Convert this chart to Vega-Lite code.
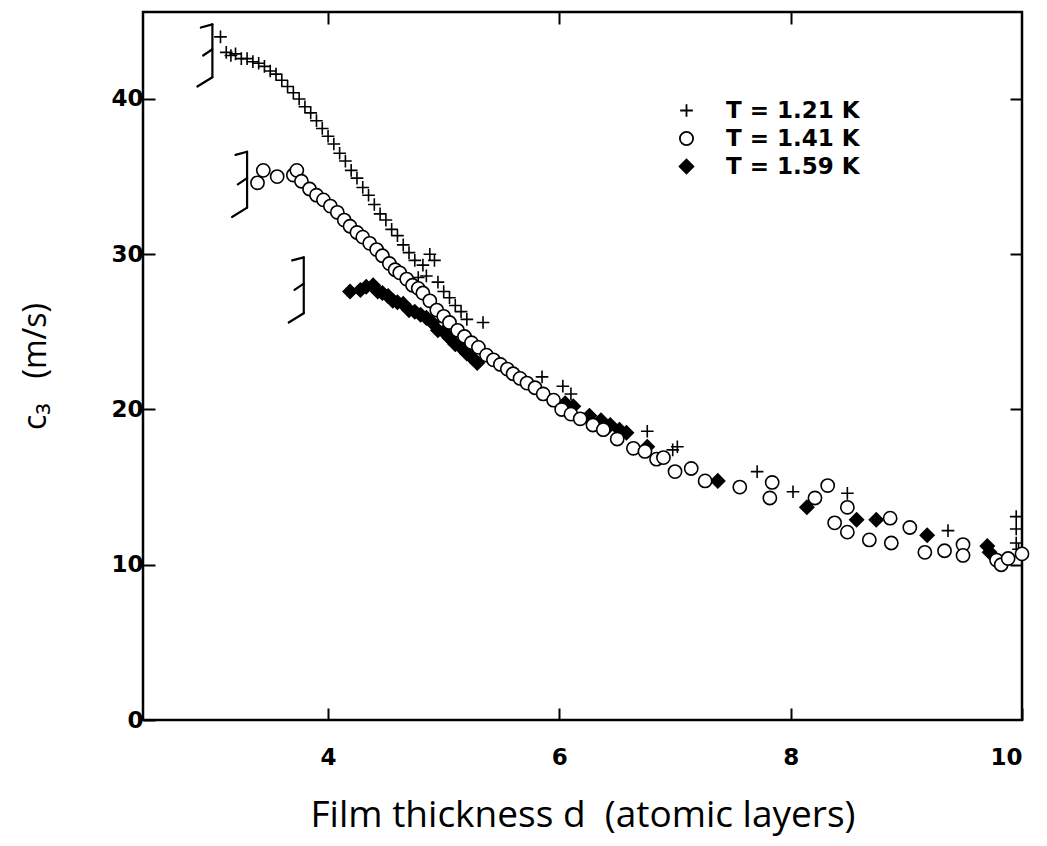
{
  "$schema": "https://vega.github.io/schema/vega-lite/v6.json",
  "width": 879,
  "height": 708,
  "autosize": "none",
  "padding": {"left": 143, "top": 12, "right": 25, "bottom": 126},
  "background": "white",
  "config": {
    "view": {"stroke": "black", "strokeWidth": 2.5},
    "axis": {"domain": false, "grid": false, "tickColor": "black", "tickWidth": 2, "tickSize": -12},
    "legend": {"padding": 0}
  },
  "datasets": {
    "pts": [
      {"d": 3.07, "c": 44.0, "T": "T = 1.21 K"},
      {"d": 3.12, "c": 43.0, "T": "T = 1.21 K"},
      {"d": 3.16, "c": 42.8, "T": "T = 1.21 K"},
      {"d": 3.20, "c": 42.9, "T": "T = 1.21 K"},
      {"d": 3.25, "c": 42.6, "T": "T = 1.21 K"},
      {"d": 3.30, "c": 42.6, "T": "T = 1.21 K"},
      {"d": 3.35, "c": 42.4, "T": "T = 1.21 K"},
      {"d": 3.40, "c": 42.3, "T": "T = 1.21 K"},
      {"d": 3.45, "c": 42.1, "T": "T = 1.21 K"},
      {"d": 3.50, "c": 41.8, "T": "T = 1.21 K"},
      {"d": 3.55, "c": 41.6, "T": "T = 1.21 K"},
      {"d": 3.60, "c": 41.2, "T": "T = 1.21 K"},
      {"d": 3.65, "c": 40.8, "T": "T = 1.21 K"},
      {"d": 3.70, "c": 40.4, "T": "T = 1.21 K"},
      {"d": 3.75, "c": 40.0, "T": "T = 1.21 K"},
      {"d": 3.80, "c": 39.5, "T": "T = 1.21 K"},
      {"d": 3.85, "c": 39.1, "T": "T = 1.21 K"},
      {"d": 3.90, "c": 38.6, "T": "T = 1.21 K"},
      {"d": 3.95, "c": 38.1, "T": "T = 1.21 K"},
      {"d": 4.00, "c": 37.6, "T": "T = 1.21 K"},
      {"d": 4.05, "c": 37.1, "T": "T = 1.21 K"},
      {"d": 4.10, "c": 36.5, "T": "T = 1.21 K"},
      {"d": 4.15, "c": 36.0, "T": "T = 1.21 K"},
      {"d": 4.20, "c": 35.4, "T": "T = 1.21 K"},
      {"d": 4.25, "c": 34.9, "T": "T = 1.21 K"},
      {"d": 4.30, "c": 34.3, "T": "T = 1.21 K"},
      {"d": 4.35, "c": 33.8, "T": "T = 1.21 K"},
      {"d": 4.40, "c": 33.2, "T": "T = 1.21 K"},
      {"d": 4.45, "c": 32.6, "T": "T = 1.21 K"},
      {"d": 4.50, "c": 32.2, "T": "T = 1.21 K"},
      {"d": 4.55, "c": 31.6, "T": "T = 1.21 K"},
      {"d": 4.60, "c": 31.2, "T": "T = 1.21 K"},
      {"d": 4.65, "c": 30.6, "T": "T = 1.21 K"},
      {"d": 4.70, "c": 30.1, "T": "T = 1.21 K"},
      {"d": 4.75, "c": 29.6, "T": "T = 1.21 K"},
      {"d": 4.78, "c": 28.5, "T": "T = 1.21 K"},
      {"d": 4.82, "c": 29.3, "T": "T = 1.21 K"},
      {"d": 4.85, "c": 28.6, "T": "T = 1.21 K"},
      {"d": 4.88, "c": 30.0, "T": "T = 1.21 K"},
      {"d": 4.92, "c": 29.6, "T": "T = 1.21 K"},
      {"d": 4.95, "c": 28.2, "T": "T = 1.21 K"},
      {"d": 5.00, "c": 27.6, "T": "T = 1.21 K"},
      {"d": 5.05, "c": 27.2, "T": "T = 1.21 K"},
      {"d": 5.10, "c": 26.7, "T": "T = 1.21 K"},
      {"d": 5.15, "c": 26.3, "T": "T = 1.21 K"},
      {"d": 5.20, "c": 25.8, "T": "T = 1.21 K"},
      {"d": 5.34, "c": 25.6, "T": "T = 1.21 K"},
      {"d": 5.85, "c": 22.1, "T": "T = 1.21 K"},
      {"d": 6.03, "c": 21.5, "T": "T = 1.21 K"},
      {"d": 6.10, "c": 21.0, "T": "T = 1.21 K"},
      {"d": 6.76, "c": 18.6, "T": "T = 1.21 K"},
      {"d": 6.98, "c": 17.4, "T": "T = 1.21 K"},
      {"d": 7.02, "c": 17.6, "T": "T = 1.21 K"},
      {"d": 7.71, "c": 16.0, "T": "T = 1.21 K"},
      {"d": 8.02, "c": 14.7, "T": "T = 1.21 K"},
      {"d": 8.49, "c": 14.6, "T": "T = 1.21 K"},
      {"d": 9.36, "c": 12.2, "T": "T = 1.21 K"},
      {"d": 9.95, "c": 13.1, "T": "T = 1.21 K"},
      {"d": 9.95, "c": 12.3, "T": "T = 1.21 K"},
      {"d": 9.95, "c": 11.4, "T": "T = 1.21 K"},
      {"d": 9.97, "c": 11.0, "T": "T = 1.21 K"},

      {"d": 4.19, "c": 27.6, "T": "T = 1.59 K"},
      {"d": 4.28, "c": 27.7, "T": "T = 1.59 K"},
      {"d": 4.33, "c": 27.9, "T": "T = 1.59 K"},
      {"d": 4.39, "c": 28.0, "T": "T = 1.59 K"},
      {"d": 4.43, "c": 27.6, "T": "T = 1.59 K"},
      {"d": 4.47, "c": 27.5, "T": "T = 1.59 K"},
      {"d": 4.52, "c": 27.3, "T": "T = 1.59 K"},
      {"d": 4.56, "c": 27.0, "T": "T = 1.59 K"},
      {"d": 4.60, "c": 26.9, "T": "T = 1.59 K"},
      {"d": 4.65, "c": 26.8, "T": "T = 1.59 K"},
      {"d": 4.70, "c": 26.4, "T": "T = 1.59 K"},
      {"d": 4.75, "c": 26.3, "T": "T = 1.59 K"},
      {"d": 4.80, "c": 26.1, "T": "T = 1.59 K"},
      {"d": 4.85, "c": 25.9, "T": "T = 1.59 K"},
      {"d": 4.90, "c": 25.6, "T": "T = 1.59 K"},
      {"d": 4.95, "c": 25.1, "T": "T = 1.59 K"},
      {"d": 5.00, "c": 25.0, "T": "T = 1.59 K"},
      {"d": 5.05, "c": 24.6, "T": "T = 1.59 K"},
      {"d": 5.10, "c": 24.2, "T": "T = 1.59 K"},
      {"d": 5.15, "c": 24.0, "T": "T = 1.59 K"},
      {"d": 5.20, "c": 23.6, "T": "T = 1.59 K"},
      {"d": 5.25, "c": 23.3, "T": "T = 1.59 K"},
      {"d": 5.29, "c": 23.0, "T": "T = 1.59 K"},
      {"d": 6.05, "c": 20.4, "T": "T = 1.59 K"},
      {"d": 6.12, "c": 20.2, "T": "T = 1.59 K"},
      {"d": 6.26, "c": 19.6, "T": "T = 1.59 K"},
      {"d": 6.36, "c": 19.3, "T": "T = 1.59 K"},
      {"d": 6.44, "c": 19.0, "T": "T = 1.59 K"},
      {"d": 6.52, "c": 18.7, "T": "T = 1.59 K"},
      {"d": 6.58, "c": 18.5, "T": "T = 1.59 K"},
      {"d": 6.76, "c": 17.6, "T": "T = 1.59 K"},
      {"d": 7.37, "c": 15.4, "T": "T = 1.59 K"},
      {"d": 8.14, "c": 13.7, "T": "T = 1.59 K"},
      {"d": 8.57, "c": 12.9, "T": "T = 1.59 K"},
      {"d": 8.74, "c": 12.9, "T": "T = 1.59 K"},
      {"d": 9.18, "c": 11.9, "T": "T = 1.59 K"},
      {"d": 9.70, "c": 11.2, "T": "T = 1.59 K"},
      {"d": 9.72, "c": 10.8, "T": "T = 1.59 K"},

      {"d": 3.39, "c": 34.6, "T": "T = 1.41 K"},
      {"d": 3.44, "c": 35.4, "T": "T = 1.41 K"},
      {"d": 3.56, "c": 35.0, "T": "T = 1.41 K"},
      {"d": 3.70, "c": 35.1, "T": "T = 1.41 K"},
      {"d": 3.73, "c": 35.4, "T": "T = 1.41 K"},
      {"d": 3.77, "c": 34.7, "T": "T = 1.41 K"},
      {"d": 3.84, "c": 34.2, "T": "T = 1.41 K"},
      {"d": 3.90, "c": 33.8, "T": "T = 1.41 K"},
      {"d": 3.96, "c": 33.5, "T": "T = 1.41 K"},
      {"d": 4.02, "c": 33.1, "T": "T = 1.41 K"},
      {"d": 4.08, "c": 32.7, "T": "T = 1.41 K"},
      {"d": 4.14, "c": 32.2, "T": "T = 1.41 K"},
      {"d": 4.19, "c": 31.8, "T": "T = 1.41 K"},
      {"d": 4.25, "c": 31.4, "T": "T = 1.41 K"},
      {"d": 4.30, "c": 31.1, "T": "T = 1.41 K"},
      {"d": 4.36, "c": 30.7, "T": "T = 1.41 K"},
      {"d": 4.42, "c": 30.3, "T": "T = 1.41 K"},
      {"d": 4.47, "c": 29.9, "T": "T = 1.41 K"},
      {"d": 4.53, "c": 29.4, "T": "T = 1.41 K"},
      {"d": 4.58, "c": 29.0, "T": "T = 1.41 K"},
      {"d": 4.62, "c": 28.8, "T": "T = 1.41 K"},
      {"d": 4.68, "c": 28.4, "T": "T = 1.41 K"},
      {"d": 4.73, "c": 28.0, "T": "T = 1.41 K"},
      {"d": 4.78, "c": 27.8, "T": "T = 1.41 K"},
      {"d": 4.82, "c": 27.5, "T": "T = 1.41 K"},
      {"d": 4.88, "c": 27.0, "T": "T = 1.41 K"},
      {"d": 4.94, "c": 26.4, "T": "T = 1.41 K"},
      {"d": 5.00, "c": 26.0, "T": "T = 1.41 K"},
      {"d": 5.05, "c": 25.6, "T": "T = 1.41 K"},
      {"d": 5.12, "c": 25.1, "T": "T = 1.41 K"},
      {"d": 5.18, "c": 24.7, "T": "T = 1.41 K"},
      {"d": 5.24, "c": 24.3, "T": "T = 1.41 K"},
      {"d": 5.30, "c": 24.0, "T": "T = 1.41 K"},
      {"d": 5.37, "c": 23.5, "T": "T = 1.41 K"},
      {"d": 5.43, "c": 23.2, "T": "T = 1.41 K"},
      {"d": 5.49, "c": 22.9, "T": "T = 1.41 K"},
      {"d": 5.55, "c": 22.6, "T": "T = 1.41 K"},
      {"d": 5.60, "c": 22.3, "T": "T = 1.41 K"},
      {"d": 5.66, "c": 22.0, "T": "T = 1.41 K"},
      {"d": 5.72, "c": 21.7, "T": "T = 1.41 K"},
      {"d": 5.79, "c": 21.4, "T": "T = 1.41 K"},
      {"d": 5.86, "c": 21.0, "T": "T = 1.41 K"},
      {"d": 5.95, "c": 20.6, "T": "T = 1.41 K"},
      {"d": 6.02, "c": 20.0, "T": "T = 1.41 K"},
      {"d": 6.10, "c": 19.7, "T": "T = 1.41 K"},
      {"d": 6.18, "c": 19.4, "T": "T = 1.41 K"},
      {"d": 6.29, "c": 19.0, "T": "T = 1.41 K"},
      {"d": 6.38, "c": 18.7, "T": "T = 1.41 K"},
      {"d": 6.50, "c": 18.1, "T": "T = 1.41 K"},
      {"d": 6.64, "c": 17.5, "T": "T = 1.41 K"},
      {"d": 6.74, "c": 17.3, "T": "T = 1.41 K"},
      {"d": 6.84, "c": 16.8, "T": "T = 1.41 K"},
      {"d": 6.90, "c": 16.9, "T": "T = 1.41 K"},
      {"d": 7.00, "c": 16.0, "T": "T = 1.41 K"},
      {"d": 7.14, "c": 16.2, "T": "T = 1.41 K"},
      {"d": 7.26, "c": 15.4, "T": "T = 1.41 K"},
      {"d": 7.56, "c": 15.0, "T": "T = 1.41 K"},
      {"d": 7.84, "c": 15.3, "T": "T = 1.41 K"},
      {"d": 7.82, "c": 14.3, "T": "T = 1.41 K"},
      {"d": 8.21, "c": 14.3, "T": "T = 1.41 K"},
      {"d": 8.32, "c": 15.1, "T": "T = 1.41 K"},
      {"d": 8.38, "c": 12.7, "T": "T = 1.41 K"},
      {"d": 8.49, "c": 13.7, "T": "T = 1.41 K"},
      {"d": 8.49, "c": 12.1, "T": "T = 1.41 K"},
      {"d": 8.68, "c": 11.6, "T": "T = 1.41 K"},
      {"d": 8.86, "c": 13.0, "T": "T = 1.41 K"},
      {"d": 8.87, "c": 11.4, "T": "T = 1.41 K"},
      {"d": 9.03, "c": 12.4, "T": "T = 1.41 K"},
      {"d": 9.16, "c": 10.8, "T": "T = 1.41 K"},
      {"d": 9.33, "c": 10.9, "T": "T = 1.41 K"},
      {"d": 9.49, "c": 11.3, "T": "T = 1.41 K"},
      {"d": 9.49, "c": 10.6, "T": "T = 1.41 K"},
      {"d": 9.78, "c": 10.3, "T": "T = 1.41 K"},
      {"d": 9.82, "c": 10.0, "T": "T = 1.41 K"},
      {"d": 9.88, "c": 10.4, "T": "T = 1.41 K"},
      {"d": 10.0, "c": 10.7, "T": "T = 1.41 K"}
    ],
    "brackets": [
      {"x1": 3.00, "y1": 44.8, "x2": 3.00, "y2": 41.4},
      {"x1": 2.90, "y1": 44.6, "x2": 3.00, "y2": 44.8},
      {"x1": 2.92, "y1": 42.8, "x2": 3.00, "y2": 43.2},
      {"x1": 3.00, "y1": 41.4, "x2": 2.87, "y2": 40.8},
      {"x1": 3.30, "y1": 36.6, "x2": 3.30, "y2": 33.0},
      {"x1": 3.20, "y1": 36.4, "x2": 3.30, "y2": 36.6},
      {"x1": 3.22, "y1": 34.5, "x2": 3.30, "y2": 34.9},
      {"x1": 3.30, "y1": 33.0, "x2": 3.17, "y2": 32.4},
      {"x1": 3.79, "y1": 29.8, "x2": 3.79, "y2": 26.2},
      {"x1": 3.69, "y1": 29.6, "x2": 3.79, "y2": 29.8},
      {"x1": 3.71, "y1": 27.7, "x2": 3.79, "y2": 28.1},
      {"x1": 3.79, "y1": 26.2, "x2": 3.66, "y2": 25.6}
    ]
  },
  "layer": [
    {
      "data": {"name": "brackets"},
      "mark": {"type": "rule", "color": "black", "strokeWidth": 2.2, "strokeCap": "round"},
      "encoding": {
        "x": {"field": "x1", "type": "quantitative", "scale": {"domain": [2.4, 10], "nice": false, "zero": false},
              "axis": {"orient": "bottom", "values": [4, 6, 8, 10], "title": "Film thickness d\u00a0\u00a0(atomic layers)",
                       "labelFont": "DejaVu Sans", "labelFontWeight": "bold", "labelFontSize": 23, "labelColor": "black", "labelPadding": 38,
                       "titleFont": "Open Sans", "titleFontWeight": "normal", "titleFontSize": 37, "titleColor": "black", "titlePadding": 28}},
        "y": {"field": "y1", "type": "quantitative", "scale": {"domain": [0, 45.6], "nice": false},
              "axis": {"orient": "left", "values": [0, 10, 20, 30, 40], "title": "c₃\u00a0\u00a0\u00a0(m/s)",
                       "labelFont": "DejaVu Sans", "labelFontWeight": "bold", "labelFontSize": 23, "labelColor": "black", "labelPadding": 12,
                       "titleFont": "Open Sans", "titleFontWeight": "normal", "titleFontSize": 32, "titleColor": "black", "titlePadding": 58}},
        "x2": {"field": "x2"},
        "y2": {"field": "y2"}
      }
    },
    {
      "data": {"name": "pts"},
      "mark": {"type": "point", "filled": false, "strokeWidth": 1.6, "opacity": 1},
      "encoding": {
        "x": {"field": "d", "type": "quantitative", "axis": {"orient": "top", "values": [4, 6, 8], "labels": false, "title": null}},
        "y": {"field": "c", "type": "quantitative", "axis": {"orient": "right", "values": [10, 20, 30, 40], "labels": false, "title": null}},
        "shape": {"field": "T", "type": "nominal", "title": null,
                  "scale": {"domain": ["T = 1.21 K", "T = 1.41 K", "T = 1.59 K"], "range": ["M-1,0H1M0,-1V1", "circle", "diamond"]},
                  "legend": {"orient": "none", "legendX": 532, "legendY": 87, "title": null, "labelFont": "DejaVu Sans", "labelFontWeight": "bold", "labelFontSize": 23, "labelColor": "black", "rowPadding": 4, "labelOffset": 28, "symbolStrokeWidth": 1.8}},
        "fill": {"field": "T", "type": "nominal", "title": null,
                 "scale": {"domain": ["T = 1.21 K", "T = 1.41 K", "T = 1.59 K"], "range": ["transparent", "white", "black"]},
                 "legend": {"orient": "none", "legendX": 532, "legendY": 87, "title": null, "labelFont": "DejaVu Sans", "labelFontWeight": "bold", "labelFontSize": 23, "labelColor": "black", "rowPadding": 4, "labelOffset": 28, "symbolStrokeWidth": 1.8}},
        "stroke": {"field": "T", "type": "nominal", "title": null,
                 "scale": {"domain": ["T = 1.21 K", "T = 1.41 K", "T = 1.59 K"], "range": ["black", "black", "black"]},
                 "legend": {"orient": "none", "legendX": 532, "legendY": 87, "title": null, "labelFont": "DejaVu Sans", "labelFontWeight": "bold", "labelFontSize": 23, "labelColor": "black", "rowPadding": 4, "labelOffset": 28, "symbolStrokeWidth": 1.8}},
        "size": {"field": "T", "type": "nominal", "title": null,
                 "scale": {"domain": ["T = 1.21 K", "T = 1.41 K", "T = 1.59 K"], "range": [160, 190, 130]},
                 "legend": {"orient": "none", "legendX": 532, "legendY": 87, "title": null, "labelFont": "DejaVu Sans", "labelFontWeight": "bold", "labelFontSize": 23, "labelColor": "black", "rowPadding": 4, "labelOffset": 28, "symbolStrokeWidth": 1.8}}
      }
    }
  ],
  "resolve": {"axis": {"x": "independent", "y": "independent"}}
}
